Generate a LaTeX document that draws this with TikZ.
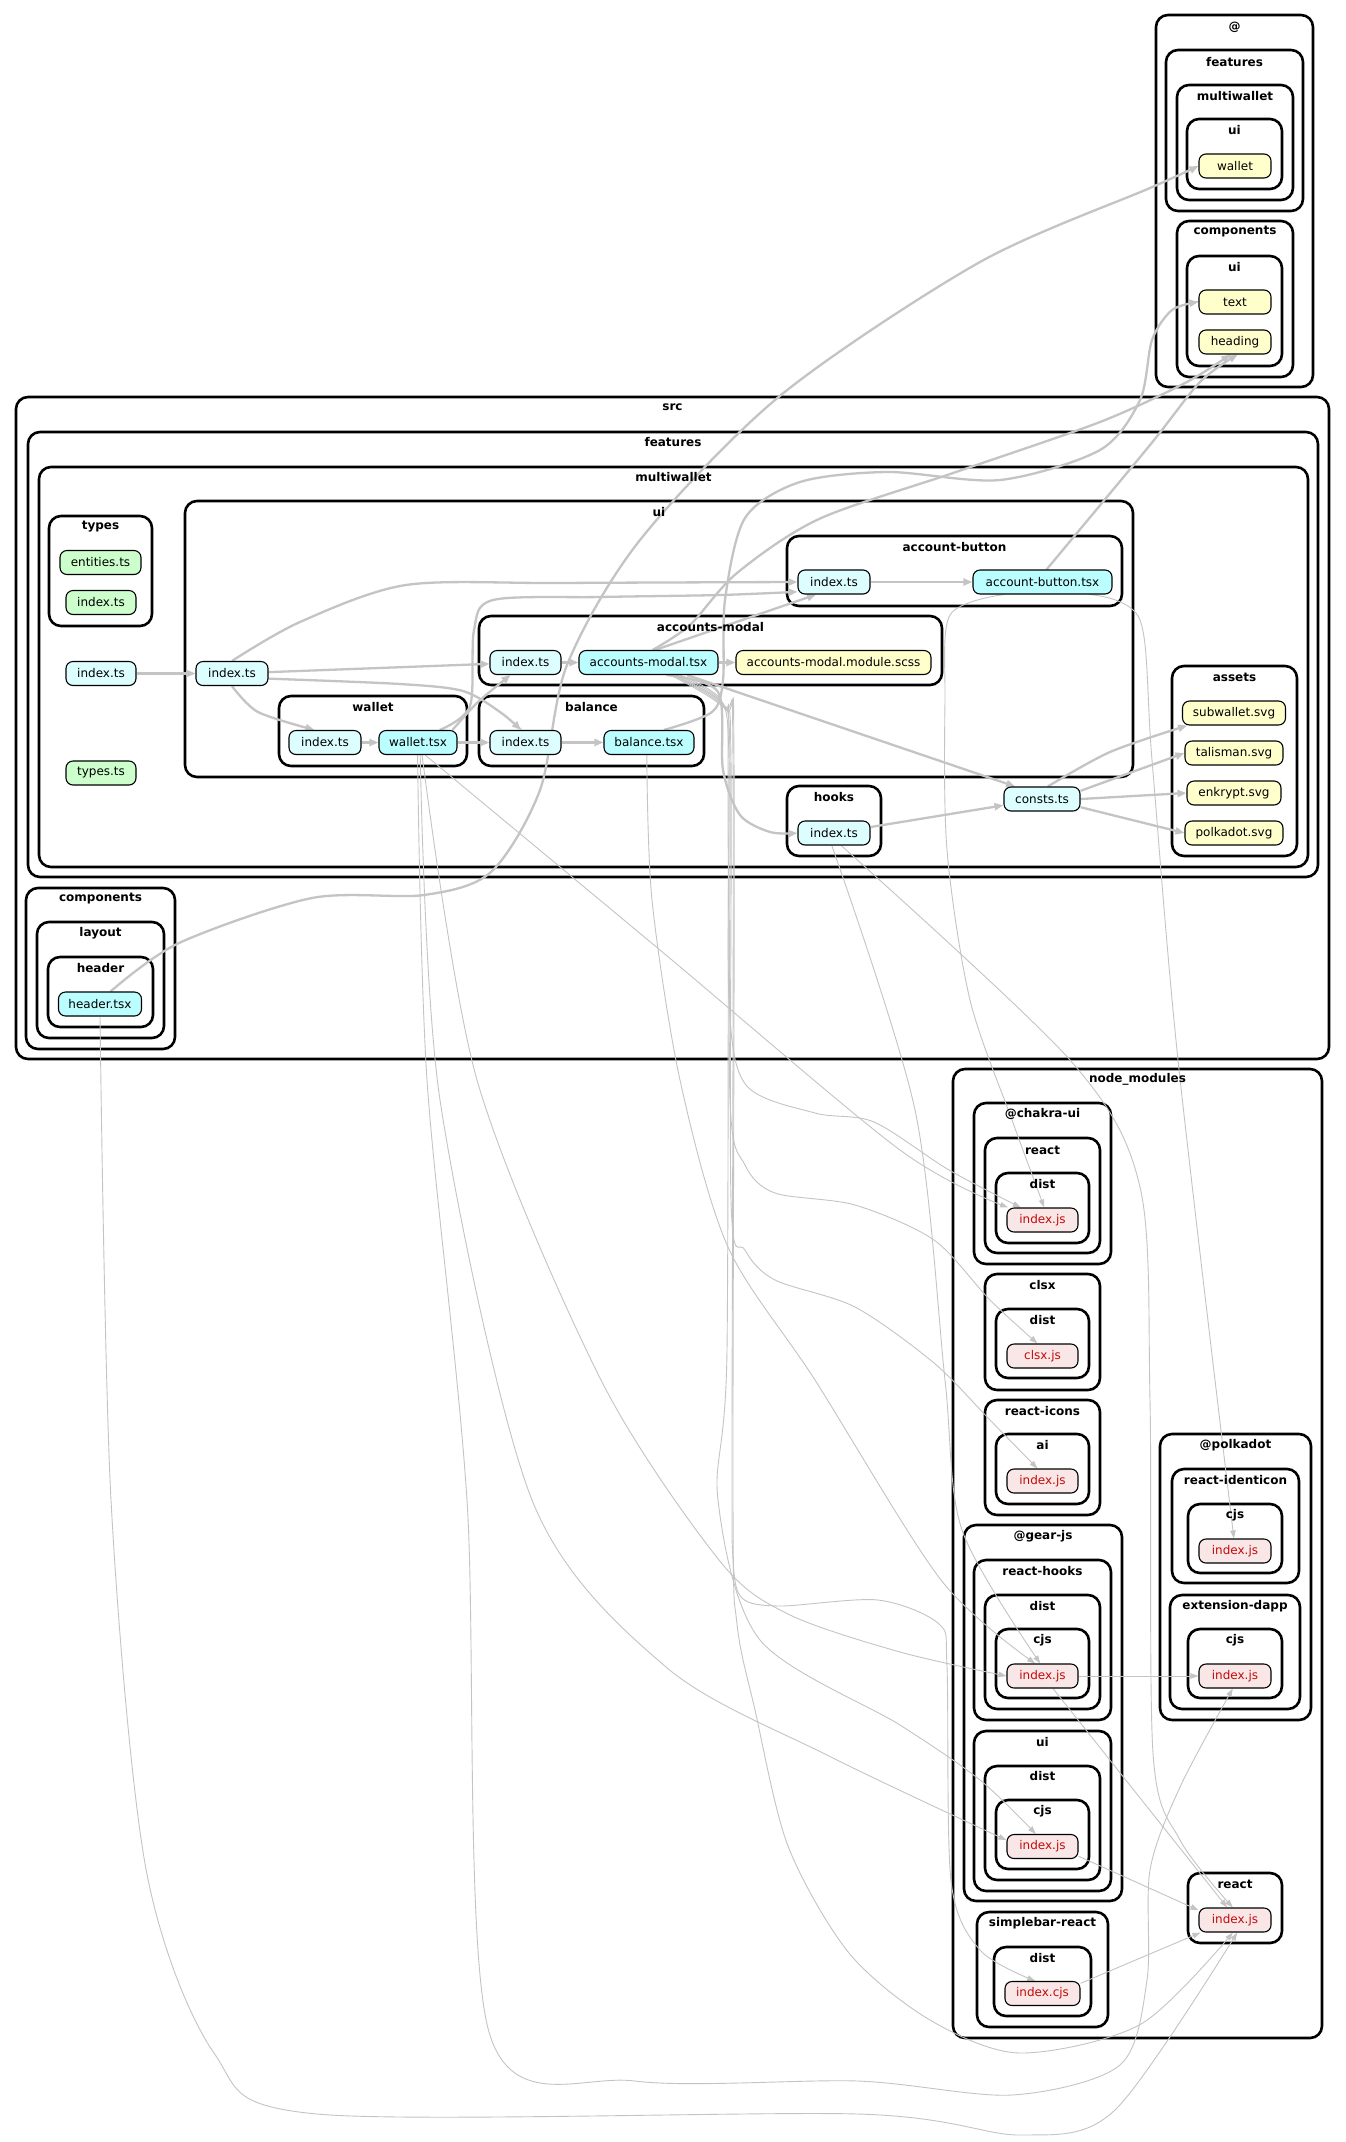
\documentclass[tikz,border=0pt]{standalone}
\usepackage{fontspec}
\setmainfont{DejaVu Sans}
\usetikzlibrary{arrows.meta}
\pgfdeclarelayer{bg}
\pgfdeclarelayer{edges}
\pgfsetlayers{bg,edges,main}

\definecolor{tscol}{HTML}{DDFEFF}
\definecolor{tsxcol}{HTML}{BBFEFF}
\definecolor{grncol}{HTML}{CCFFCC}
\definecolor{ylwcol}{HTML}{FFFFCC}
\definecolor{npmcol}{HTML}{F9E6E6}
\definecolor{npmtxt}{HTML}{C40B0A}
\definecolor{edgecol}{HTML}{C4C4C4}

\tikzset{
  clusterbox/.style={draw=black, line width=2.6pt, rounded corners=12pt},
  clab/.style={font=\bfseries\fontsize{12}{14}\selectfont, inner sep=0pt},
  fbox/.style={draw=black, line width=1.1pt, rounded corners=7pt, minimum height=24pt,
    inner sep=0pt, font=\fontsize{12}{14}\selectfont},
  tsnode/.style={fbox, fill=tscol},
  tsxnode/.style={fbox, fill=tsxcol},
  grnnode/.style={fbox, fill=grncol},
  ylwnode/.style={fbox, fill=ylwcol},
  npmnode/.style={fbox, fill=npmcol, text=npmtxt},
  dep/.style={draw=edgecol, line width=2.3pt, -{Triangle[length=9pt,width=7pt]}},
  lib/.style={draw=edgecol, line width=0.9pt, -{Triangle[length=8pt,width=5.5pt]}},
}

% cluster: name, x1, y1, x2, y2, label y, label
\newcommand\clus[7]{%
  \begin{pgfonlayer}{bg}\draw[clusterbox] (#2,#3) rectangle (#4,#5);\end{pgfonlayer}%
  \node[clab] (#1) at ({(#2+#4)/2},#6) {#7};}
% file node: style, name, x, y, width, text
\newcommand\fn[6]{\node[#1, minimum width=#5pt] (#2) at (#3,#4) {#6};}

\begin{document}
\begin{tikzpicture}[x=1pt,y=-1pt]
\useasboundingbox (0,0) rectangle (1345,2142);
\begin{pgfonlayer}{bg}\fill[white] (0,0) rectangle (1345,2142);\end{pgfonlayer}

% ---------- alias folder @ ----------
\clus{cAt}{1156}{15}{1313}{387}{27}{@}
\clus{cAtFeat}{1166}{50}{1303}{211}{62}{features}
\clus{cAtMw}{1177}{85}{1293}{200}{96}{multiwallet}
\clus{cAtMwUi}{1187}{119}{1282}{189}{130}{ui}
\clus{cAtComp}{1177}{221}{1293}{377}{232}{components}
\clus{cAtCompUi}{1187}{256}{1282}{366}{267}{ui}

% ---------- src ----------
\clus{cSrc}{16}{397}{1329}{1059}{407}{src}
\clus{cFeat}{28}{432}{1318}{877}{442}{features}
\clus{cMw}{39}{467}{1308}{867}{477}{multiwallet}
\clus{cTypes}{49}{516}{152}{626}{527}{types}
\clus{cUi}{185}{501}{1133}{777}{512}{ui}
\clus{cAb}{787}{536}{1122}{606}{547}{account-button}
\clus{cAm}{479}{616}{942}{685}{627}{accounts-modal}
\clus{cWal}{279}{696}{467}{766}{707}{wallet}
\clus{cBal}{479}{696}{704}{766}{707}{balance}
\clus{cHooks}{787}{786}{881}{856}{797}{hooks}
\clus{cAssets}{1172}{666}{1297}{856}{677}{assets}
\clus{cComp}{26}{888}{175}{1049}{899}{components}
\clus{cLayout}{37}{922}{164}{1038}{933}{layout}
\clus{cHeader}{48}{957}{153}{1027}{968}{header}

% ---------- node_modules ----------
\clus{cNm}{953}{1069}{1322}{2038}{1079}{node\_modules}
\clus{cChakra}{974}{1103}{1111}{1264}{1114}{@chakra-ui}
\clus{cChakraR}{985}{1138}{1100}{1253}{1150}{react}
\clus{cChakraD}{996}{1173}{1089}{1243}{1184}{dist}
\clus{cClsx}{985}{1274}{1100}{1390}{1285}{clsx}
\clus{cClsxD}{996}{1309}{1089}{1378}{1320}{dist}
\clus{cRi}{985}{1400}{1100}{1515}{1411}{react-icons}
\clus{cRiAi}{996}{1434}{1089}{1504}{1445}{ai}
\clus{cGear}{964}{1525}{1122}{1901}{1536}{@gear-js}
\clus{cGearRh}{974}{1560}{1111}{1720}{1571}{react-hooks}
\clus{cGearRhD}{985}{1595}{1100}{1709}{1606}{dist}
\clus{cGearRhC}{996}{1629}{1089}{1698}{1640}{cjs}
\clus{cGearUi}{974}{1731}{1111}{1891}{1742}{ui}
\clus{cGearUiD}{985}{1766}{1100}{1880}{1776}{dist}
\clus{cGearUiC}{996}{1800}{1089}{1869}{1811}{cjs}
\clus{cSb}{977}{1912}{1108}{2027}{1923}{simplebar-react}
\clus{cSbD}{994}{1947}{1091}{2016}{1958}{dist}
\clus{cPk}{1160}{1434}{1311}{1720}{1445}{@polkadot}
\clus{cPkId}{1172}{1469}{1299}{1583}{1480}{react-identicon}
\clus{cPkIdC}{1188}{1504}{1282}{1573}{1515}{cjs}
\clus{cPkEx}{1170}{1595}{1300}{1709}{1606}{extension-dapp}
\clus{cPkExC}{1188}{1629}{1282}{1698}{1640}{cjs}
\clus{cReact}{1188}{1873}{1282}{1943}{1884}{react}

% ---------- files ----------
\fn{ylwnode}{atwallet}{1235}{166}{72}{wallet}
\fn{ylwnode}{attext}{1235}{302}{72}{text}
\fn{ylwnode}{atheading}{1235}{342}{72}{heading}

\fn{grnnode}{entities}{100.5}{562.5}{81}{entities.ts}
\fn{grnnode}{typesidx}{101}{602.5}{70}{index.ts}
\fn{tsnode}{mwidx}{101}{673.5}{70}{index.ts}
\fn{grnnode}{typests}{101}{773}{70}{types.ts}
\fn{tsnode}{uiidx}{232}{673.5}{72}{index.ts}
\fn{tsnode}{abidx}{834}{582}{72}{index.ts}
\fn{tsxnode}{abtsx}{1042.5}{582}{139}{account-button.tsx}
\fn{tsnode}{amidx}{525.5}{662.5}{71}{index.ts}
\fn{tsxnode}{amtsx}{648.5}{662.5}{139}{accounts-modal.tsx}
\fn{ylwnode}{amscss}{833.5}{662.5}{195}{accounts-modal.module.scss}
\fn{tsnode}{walidx}{325}{742.5}{72}{index.ts}
\fn{tsxnode}{waltsx}{418}{742.5}{78}{wallet.tsx}
\fn{tsnode}{balidx}{525.5}{742.5}{71}{index.ts}
\fn{tsxnode}{baltsx}{649}{742.5}{90}{balance.tsx}
\fn{tsnode}{hooksidx}{834}{833}{72}{index.ts}
\fn{tsnode}{consts}{1042}{799}{76}{consts.ts}
\fn{ylwnode}{subw}{1234}{713}{103}{subwallet.svg}
\fn{ylwnode}{talis}{1234}{753}{98}{talisman.svg}
\fn{ylwnode}{enk}{1234}{793}{94}{enkrypt.svg}
\fn{ylwnode}{polk}{1234}{833}{98}{polkadot.svg}
\fn{tsxnode}{headertsx}{100}{1004}{83}{header.tsx}

\fn{npmnode}{chakra}{1042.5}{1220}{71}{index.js}
\fn{npmnode}{clsxjs}{1042.5}{1356}{71}{clsx.js}
\fn{npmnode}{ricons}{1042.5}{1481}{71}{index.js}
\fn{npmnode}{rhooks}{1042.5}{1676}{71}{index.js}
\fn{npmnode}{gearui}{1042.5}{1846.5}{71}{index.js}
\fn{npmnode}{simpleb}{1042.5}{1993.5}{75}{index.cjs}
\fn{npmnode}{identicon}{1235}{1551}{72}{index.js}
\fn{npmnode}{extd}{1235}{1676}{72}{index.js}
\fn{npmnode}{react}{1235}{1920}{72}{index.js}

% ---------- dependencies ----------
\begin{pgfonlayer}{edges}
% local modules
\draw[dep] (mwidx) -- (uiidx);
\draw[dep] (uiidx) -- (amidx);
\draw[dep] plot[smooth] coordinates {(uiidx.north) (300,622) (406,585) (560,583) (abidx.west)};
\draw[dep] plot[smooth] coordinates {(uiidx.south) (258,712) (walidx.130)};
\draw[dep] plot[smooth] coordinates {(uiidx.-8) (400,684) (463,691) (500,712) (balidx.110)};
\draw[dep] (walidx) -- (waltsx);
\draw[dep] (waltsx) -- (balidx);
\draw[dep] plot[smooth] coordinates {(waltsx.20) (478,702) (amidx.220)};
\draw[dep] plot[smooth] coordinates {(waltsx.30) (470,706) (474,630) (493,600) (600,597) (720,595) (abidx.195)};
\draw[dep] (amidx) -- (amtsx);
\draw[dep] (amtsx) -- (amscss);
\draw[dep] (balidx) -- (baltsx);
\draw[dep] (abidx) -- (abtsx);
\draw[dep] (amtsx.62) -- (abidx.215);
\draw[dep] (amtsx.-18) -- (consts.155);
\draw[dep] plot[smooth] coordinates {(amtsx.-35) (718,692) (723,770) (740,815) (770,832) (hooksidx.west)};
\draw[dep] (hooksidx) -- (consts);
\draw[dep] plot[smooth] coordinates {(consts.65) (1110,752) (subw.195)};
\draw[dep] (consts.12) -- (talis.west);
\draw[dep] (consts.east) -- (enk.west);
\draw[dep] (consts.-12) -- (polk.west);
% alias imports
\draw[dep] plot[smooth] coordinates {(headertsx.50) (179,943) (312,898) (424,895) (491,872) (540,790) (567,665) (640,540) (781,395) (980,262) (1150,188) (atwallet.west)};
\draw[dep] plot[smooth] coordinates {(baltsx.40) (712,712) (723,680) (725,600) (745,518) (800,482) (888,472) (1000,480) (1100,450) (1140,400) (1152,340) (1172,310) (attext.west)};
\draw[dep] plot[smooth] coordinates {(amtsx.72) (690,625) (737,573) (819,519) (956,472) (1100,422) (1185,383) (atheading.250)};
\draw[dep] plot[smooth] coordinates {(abtsx.72) (1150,445) (1200,382) (atheading.-78)};

% package imports
\draw[lib] plot[smooth] coordinates {(waltsx.-60) (660,950) (900,1150) (chakra.160)};
\draw[lib] plot[smooth] coordinates {(waltsx.-80) (440,1100) (532,1500) (666,1667) (829,1756) (gearui.170)};
\draw[lib] plot[smooth] coordinates {(waltsx.-72) (477,1080) (601,1380) (719,1560) (788,1614) (900,1652) (rhooks.west)};
\draw[lib] plot[smooth] coordinates {(waltsx.-92) (427,1080) (467,1500) (489,2032) (635,2081) (858,2081) (1012,2095) (1120,2065) (1147,1980) (1150,1870) (1180,1787) (extd.-100)};

\draw[lib] plot[smooth] coordinates {(amtsx.-22) (721,700) (729,760) (729,1000) (746,1085) (815,1113) (874,1122) (949,1170) (chakra.150)};
\draw[lib] plot[smooth] coordinates {(amtsx.-24) (722,702) (730,760) (730,1100) (745,1165) (775,1193) (855,1205) (934,1240) (990,1300) (clsxjs.112)};
\draw[lib] plot[smooth] coordinates {(amtsx.-26) (723,704) (731,760) (731,1200) (745,1250) (775,1280) (855,1307) (934,1363) (990,1420) (ricons.112)};
\draw[lib] plot[smooth] coordinates {(amtsx.-27) (724,706) (728,760) (727,1350) (718,1500) (760,1640) (900,1725) (980,1780) (gearui.118)};
\draw[lib] plot[smooth] coordinates {(amtsx.-28) (725,708) (733,760) (732,1450) (733,1560) (742,1598) (780,1606) (878,1600) (939,1624) (947,1667) (951,1881) (980,1950) (simpleb.120)};
\draw[lib] plot[smooth] coordinates {(amtsx.-30) (726,710) (734,760) (733,1500) (737,1624) (755,1710) (788,1846) (849,1953) (930,2020) (1020,2053) (1141,2024) (react.-100)};

\draw[lib] plot[smooth] coordinates {(baltsx.-100) (652,900) (680,1080) (728,1247) (815,1380) (941,1580) (rhooks.120)};
\draw[lib] plot[smooth] coordinates {(hooksidx.-100) (915,1110) (945,1380) (962,1530) (rhooks.100)};
\draw[lib] plot[smooth] coordinates {(hooksidx.-60) (1070,1060) (1140,1187) (1150,1400) (1153,1753) (1180,1840) (react.100)};
\draw[lib] plot[smooth] coordinates {(abtsx.198) (950,615) (945,700) (947,850) (970,1000) (1012,1120) (chakra.82)};
\draw[lib] plot[smooth] coordinates {(abtsx.-15) (1140,620) (1152,760) (1178,1060) (identicon.95)};

\draw[lib] (rhooks) -- (extd);
\draw[lib] (rhooks.-50) -- (react.122);
\draw[lib] (gearui.-15) -- (react.165);
\draw[lib] (simpleb.15) -- (react.200);
\draw[lib] plot[smooth] coordinates {(headertsx.south) (111,1500) (146,1869) (214,2053) (317,2114) (858,2114) (1021,2135) (1115,2110) (react.-80)};
\end{pgfonlayer}
\end{tikzpicture}
\end{document}
